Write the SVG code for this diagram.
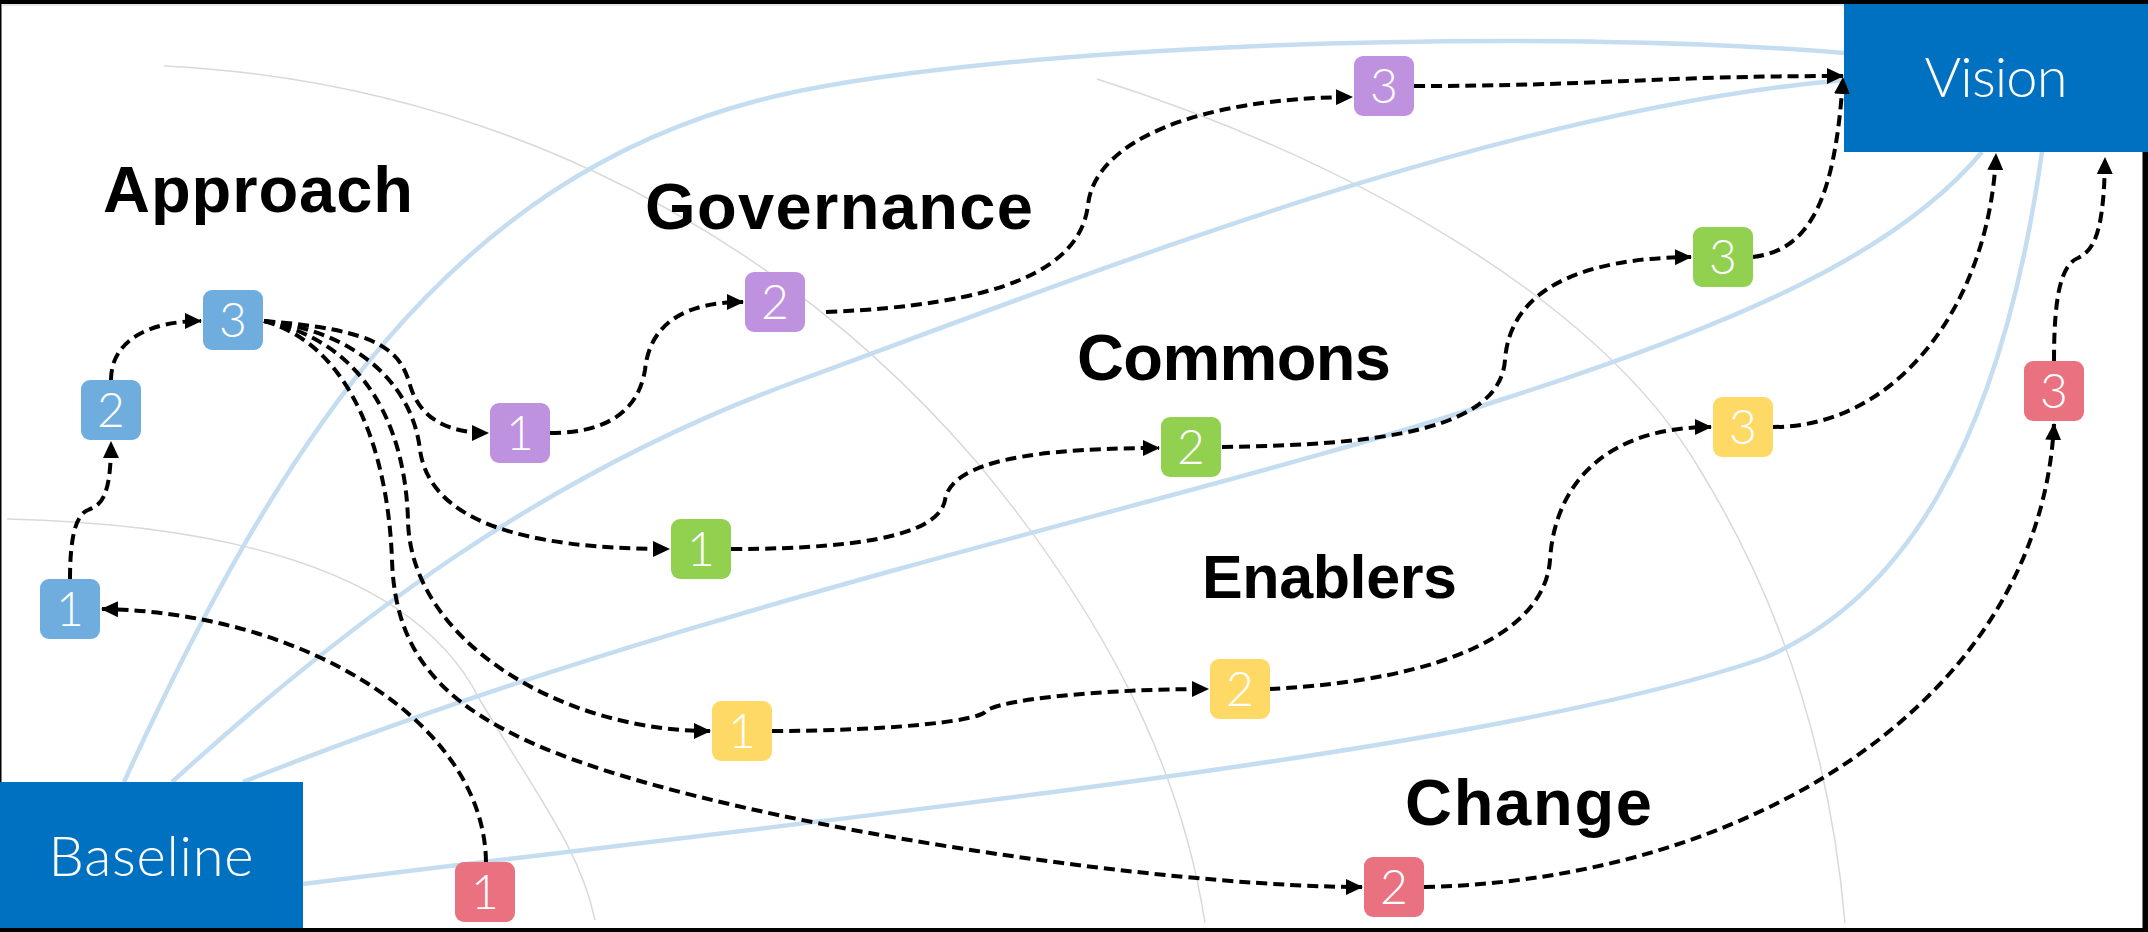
<svg xmlns="http://www.w3.org/2000/svg" width="2148" height="932" viewBox="0 0 2148 932">
<defs>
<style>
.arc{fill:none;stroke:#d9d9d9;stroke-width:1.5}
.flow{fill:none;stroke:#c5ddf1;stroke-width:4.5}
.con{fill:none;stroke:#000;stroke-width:4;stroke-dasharray:11 6}
.arr{marker-end:url(#ah)}
.lbl{font-family:"Liberation Sans","Arial",sans-serif;font-weight:700;font-size:65px;fill:#000}
.num{font-family:"Lato","Open Sans","DejaVu Sans",sans-serif;font-weight:300;font-size:48px;fill:#fff;text-anchor:middle}
.big{font-family:"Lato","Open Sans","DejaVu Sans",sans-serif;font-weight:300;font-size:56px;fill:#fff;text-anchor:middle}
.box{fill:#0070c0}
.ap{fill:#6fadDF}
.gv{fill:#bf92df}
.cm{fill:#92d050}
.en{fill:#ffd966}
.ch{fill:#ea717f}
</style>
<marker id="ah" viewBox="0 0 17 16" refX="16" refY="8" markerWidth="17" markerHeight="16" markerUnits="userSpaceOnUse" orient="auto">
<path d="M0,0 L17,8 L0,16 Z" fill="#000"/>
</marker>
</defs>
<rect x="0" y="0" width="2148" height="932" fill="#000"/>
<rect x="1.5" y="4" width="2141" height="924" fill="#fff"/>
<line x1="1.5" y1="5" x2="2142" y2="5" stroke="#cfcfcf" stroke-width="1"/>

<g id="arcs">
<path class="arc" d="M164,66 C450,80 750,200 975,460 C1100,610 1180,760 1205,923"/>
<path class="arc" d="M7,519 C250,525 420,580 480,700 C540,800 580,850 595,920"/>
<path class="arc" d="M1097,79 C1350,160 1600,300 1700,470 C1780,600 1830,750 1845,923"/>
</g>

<g id="flows">
<path class="flow" d="M124,782 C280,440 450,180 760,100 C960,48 1500,25 1845,53"/>
<path class="flow" d="M172,782 C350,620 550,470 800,380 C1100,270 1500,110 1845,80"/>
<path class="flow" d="M243,782 C700,600 1200,500 1500,400 C1750,320 1900,250 1982,152"/>
<path class="flow" d="M303,884 C900,810 1500,750 1764,658 C1900,600 2000,450 2042,152"/>
</g>

<g id="baseline">
<rect class="box" x="0" y="782" width="303" height="146"/>
<text class="big" x="151" y="876" textLength="205">Baseline</text>
</g>
<g id="vision">
<rect class="box" x="1844" y="4" width="304" height="148"/>
<text class="big" x="1996" y="97" textLength="143">Vision</text>
</g>

<g id="labels">
<text class="lbl" x="103" y="212" textLength="310">Approach</text>
<text class="lbl" x="645" y="229" textLength="388">Governance</text>
<text class="lbl" x="1077" y="380" textLength="314">Commons</text>
<text class="lbl" x="1202" y="598" style="font-size:61px" textLength="255">Enablers</text>
<text class="lbl" x="1405" y="825" textLength="247">Change</text>
</g>

<g id="connectors">
<path class="con arr" d="M486,862 C484,720 300,612 102,609"/>
<path class="con arr" d="M70,579 C70,540 75,515 88,510 C100,505 111,500 111,442"/>
<path class="con arr" d="M111,380 C111,340 150,321 201,321"/>
<path class="con arr" d="M264,321 C380,330 400,350 410,385 C420,420 450,433 488,433"/>
<path class="con arr" d="M264,321 C350,330 412,380 420,450 C430,520 520,549 669,549"/>
<path class="con arr" d="M264,321 C360,340 405,420 408,520 C410,640 560,731 710,731"/>
<path class="con arr" d="M264,321 C350,345 388,450 392,560 C396,680 470,740 700,797 C900,847 1200,887 1362,887"/>
<path class="con arr" d="M550,433 C620,433 640,400 645,370 C650,320 690,302 743,302"/>
<path class="con arr" d="M826,312 C1000,305 1080,270 1088,205 C1095,140 1200,98 1352,97"/>
<path class="con arr" d="M1414,86 C1600,86 1650,76 1843,76"/>
<path class="con arr" d="M731,549 C880,549 940,530 945,500 C950,470 1000,448 1159,448"/>
<path class="con arr" d="M1222,447 C1380,445 1500,430 1505,360 C1510,290 1580,258 1691,257"/>
<path class="con arr" d="M1753,257 C1810,250 1835,200 1843,78"/>
<path class="con arr" d="M772,731 C880,731 975,722 985,712 C995,700 1100,689 1208,689"/>
<path class="con arr" d="M1269,689 C1450,680 1545,630 1550,560 C1555,480 1610,427 1711,427"/>
<path class="con arr" d="M1773,427 C1900,427 1990,300 1996,154"/>
<path class="con arr" d="M1424,887 C1750,880 2040,700 2054,424"/>
<path class="con arr" d="M2054,361 C2054,300 2060,265 2078,258 C2095,250 2104,230 2105,158"/>
</g>

<g id="approach-1"><rect class="ap" x="40" y="579" width="60" height="60" rx="9"/><text class="num" x="70" y="626">1</text></g>
<g id="approach-2"><rect class="ap" x="81" y="380" width="60" height="60" rx="9"/><text class="num" x="111" y="427">2</text></g>
<g id="approach-3"><rect class="ap" x="203" y="290" width="60" height="60" rx="9"/><text class="num" x="233" y="337">3</text></g>
<g id="governance-1"><rect class="gv" x="490" y="403" width="60" height="60" rx="9"/><text class="num" x="520" y="450">1</text></g>
<g id="governance-2"><rect class="gv" x="745" y="272" width="60" height="60" rx="9"/><text class="num" x="775" y="319">2</text></g>
<g id="governance-3"><rect class="gv" x="1354" y="56" width="60" height="60" rx="9"/><text class="num" x="1384" y="103">3</text></g>
<g id="commons-1"><rect class="cm" x="671" y="519" width="60" height="60" rx="9"/><text class="num" x="701" y="566">1</text></g>
<g id="commons-2"><rect class="cm" x="1161" y="417" width="60" height="60" rx="9"/><text class="num" x="1191" y="464">2</text></g>
<g id="commons-3"><rect class="cm" x="1693" y="227" width="60" height="60" rx="9"/><text class="num" x="1723" y="274">3</text></g>
<g id="enablers-1"><rect class="en" x="712" y="701" width="60" height="60" rx="9"/><text class="num" x="742" y="748">1</text></g>
<g id="enablers-2"><rect class="en" x="1210" y="659" width="60" height="60" rx="9"/><text class="num" x="1240" y="706">2</text></g>
<g id="enablers-3"><rect class="en" x="1713" y="397" width="60" height="60" rx="9"/><text class="num" x="1743" y="444">3</text></g>
<g id="change-1"><rect class="ch" x="455" y="862" width="60" height="60" rx="9"/><text class="num" x="485" y="909">1</text></g>
<g id="change-2"><rect class="ch" x="1364" y="857" width="60" height="60" rx="9"/><text class="num" x="1394" y="904">2</text></g>
<g id="change-3"><rect class="ch" x="2024" y="361" width="60" height="60" rx="9"/><text class="num" x="2054" y="408">3</text></g>
</svg>
